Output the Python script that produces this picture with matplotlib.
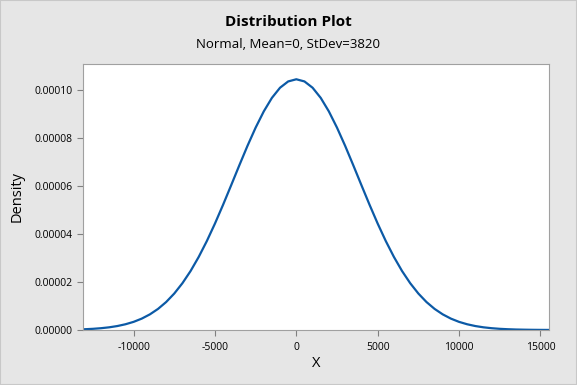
import matplotlib.pyplot as plt
from matplotlib.patches import Rectangle

plt.rcParams['font.family'] = ['Open Sans', 'DejaVu Sans']

# density values (x step 500)
x_right = [0, 500, 1000, 1500, 2000, 2500, 3000, 3500, 4000, 4500, 5000, 5500,
           6000, 6500, 7000, 7500, 8000, 8500, 9000, 9500, 10000, 10500, 11000,
           11500, 12000, 12500, 13000, 13500, 14000, 14500, 15000, 15500]
dens_right = [1.0444e-4, 1.0354e-4, 1.0092e-4, 9.669e-5, 9.106e-5, 8.430e-5,
              7.673e-5, 6.864e-5, 6.036e-5, 5.218e-5, 4.434e-5, 3.704e-5,
              3.042e-5, 2.455e-5, 1.949e-5, 1.520e-5, 1.165e-5, 8.78e-6,
              6.51e-6, 4.74e-6, 3.39e-6, 2.39e-6, 1.65e-6, 1.12e-6, 7.5e-7,
              4.9e-7, 3.2e-7, 2.0e-7, 1.3e-7, 7.8e-8, 4.7e-8, 2.8e-8]
# curve is symmetric about the mean
xs = [-v for v in x_right[:0:-1]] + x_right
dens = dens_right[:0:-1] + dens_right

xticks = [-10000, -5000, 0, 5000, 10000, 15000]
yticks = [0, 0.00002, 0.00004, 0.00006, 0.00008, 0.00010]

fig = plt.figure(figsize=(5.77, 3.85), dpi=100, facecolor='#e6e6e6')
ax = fig.add_axes([83/577, 1-330/385, (549-83)/577, (330-64)/385])
ax.plot(xs, dens, color='#0c5aa6', lw=1.6)
ax.set_xlim(-13110, 15530)
ax.set_ylim(0, 0.0001108)
ax.set_xticks(xticks)
ax.set_xticklabels([str(t) for t in xticks])
ax.set_yticks(yticks)
ax.set_yticklabels(['%.5f' % t for t in yticks])
for s in ax.spines.values():
    s.set_color('#a0a0a0')
ax.tick_params(axis='both', labelsize=7.5, color='#808080', length=4, width=0.8)
ax.tick_params(axis='x', pad=5)
ax.set_xlabel('X', fontsize=10.5, labelpad=2)
ax.set_ylabel('Density', fontsize=10.5, labelpad=7)

fig.text(0.5, 1-22/385, 'Distribution Plot', ha='center', va='center', fontsize=11, weight='bold')
fig.text(0.5, 1-45/385, 'Normal, Mean=0, StDev=3820', ha='center', va='center', fontsize=9.5)
fig.patches.append(Rectangle((0, 0), 1, 1, transform=fig.transFigure, fill=False,
                             edgecolor='#c8c8c8', lw=1.5))
fig.savefig('out.png', dpi=100, facecolor=fig.get_facecolor())
